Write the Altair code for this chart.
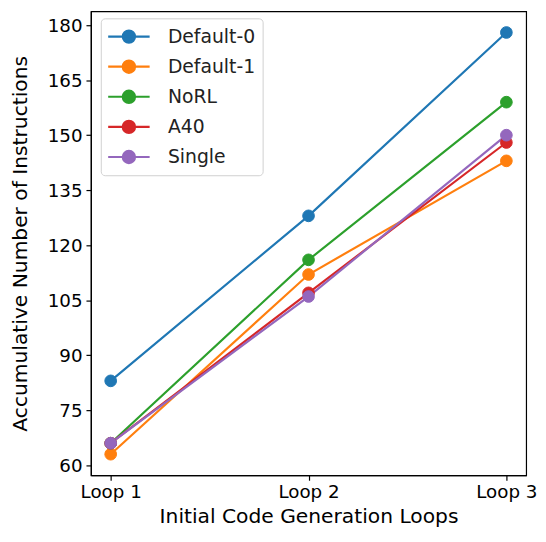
import altair as alt
import pandas as pd

loops = [0, 1, 2]
series_names = ["Default-0", "Default-1", "NoRL", "A40", "Single"]
default0 = [83, 128, 178]
default1 = [63, 112, 143]
norl = [66, 116, 159]
a40 = [66, 107, 148]
single = [66, 106, 150]
colors = ["#1f77b4", "#ff7f0e", "#2ca02c", "#d62728", "#9467bd"]
y_ticks = [60, 75, 90, 105, 120, 135, 150, 165, 180]

rows = []
for name, vals in zip(series_names, [default0, default1, norl, a40, single]):
    for i, v in zip(loops, vals):
        rows.append({"series": name, "loop": i, "value": v})
df = pd.DataFrame(rows)

FONT = "DejaVu Sans"
LFS = 18.5
TFS = 20.5

sym = "M-2.1,0L2.1,0M-0.62,0A0.62,0.62,0,1,1,0.62,0A0.62,0.62,0,1,1,-0.62,0Z"
legend = alt.Legend(
    title=None, orient="none", legendX=10, legendY=7,
    symbolType=sym, symbolSize=400, symbolStrokeWidth=2.2,
    symbolOffset=10,
    labelFont=FONT, labelFontSize=19, labelColor="#222222",
    fillColor="white", strokeColor="#d0d0d0", cornerRadius=4,
    padding=7, rowPadding=7.5, labelOffset=28, symbolOpacity=1,
)
scale = alt.Scale(domain=series_names, range=colors)

x = alt.X("loop:Q", scale=alt.Scale(domain=[-0.1, 2.1], nice=False, zero=False),
          axis=alt.Axis(values=loops, labelExpr="'Loop ' + (datum.value + 1)",
                        title="Initial Code Generation Loops", grid=False,
                        tickSize=5, labelPadding=3, titlePadding=5))
y = alt.Y("value:Q", scale=alt.Scale(domain=[57.25, 183.75], nice=False, zero=False),
          axis=alt.Axis(values=y_ticks, title="Accumulative Number of Instructions",
                        grid=False, tickSize=5, labelPadding=4, titlePadding=17))

lines = alt.Chart(df).mark_line(strokeWidth=2.2).encode(
    x=x, y=y,
    color=alt.Color("series:N", scale=scale, legend=legend),
    detail="series:N",
)
points = alt.Chart(df).mark_point(filled=False, fillOpacity=1, opacity=1, size=140, strokeWidth=1).encode(
    x=x, y=y,
    color=alt.Color("series:N", scale=scale, legend=legend),
    fill=alt.Fill("series:N", scale=scale, legend=legend),
)

chart = alt.layer(lines, points).properties(
    width=441, height=470,
    autosize=alt.AutoSizeParams(type="none"),
    padding={"left": 84, "top": 0, "right": 12, "bottom": 54},
).configure_view(stroke="black", strokeWidth=1.2).configure_axis(
    labelFont=FONT, titleFont=FONT, labelFontSize=LFS, titleFontSize=TFS,
    titleFontWeight="normal", labelColor="black", titleColor="black",
    domainColor="black", tickColor="black", domainWidth=1.2, tickWidth=1.2,
)
chart.save("out.html", embed_options={"renderer": "svg", "actions": False})
